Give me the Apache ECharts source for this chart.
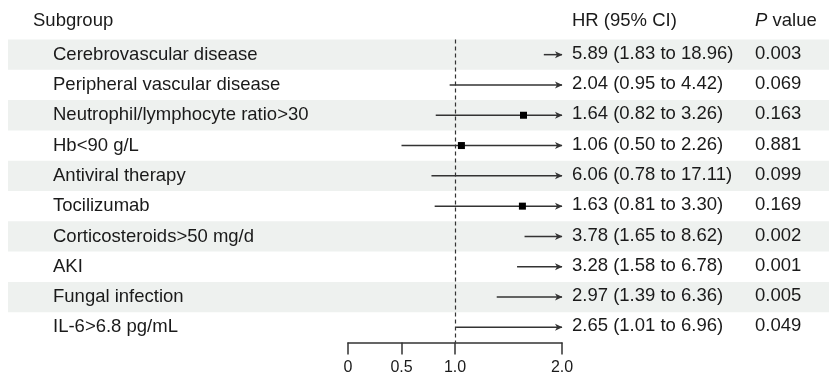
<!DOCTYPE html>
<html>
<head>
<meta charset="utf-8">
<script src="https://cdn.jsdelivr.net/npm/echarts@6/dist/echarts.min.js"></script>
<style>
html,body{margin:0;padding:0;background:#fff;}
#chart{width:829px;height:377px;}
</style>
</head>
<body>
<div id="chart"></div>
<script>
const categories = [
  'Cerebrovascular disease',
  'Peripheral vascular disease',
  'Neutrophil/lymphocyte ratio>30',
  'Hb<90 g/L',
  'Antiviral therapy',
  'Tocilizumab',
  'Corticosteroids>50 mg/d',
  'AKI',
  'Fungal infection',
  'IL-6>6.8 pg/mL'
];
const hr    = [5.89, 2.04, 1.64, 1.06, 6.06, 1.63, 3.78, 3.28, 2.97, 2.65];
const lower = [1.83, 0.95, 0.82, 0.50, 0.78, 0.81, 1.65, 1.58, 1.39, 1.01];
const upper = [18.96, 4.42, 3.26, 2.26, 17.11, 3.30, 8.62, 6.78, 6.36, 6.96];
const pValues = ['0.003', '0.069', '0.163', '0.881', '0.099', '0.169', '0.002', '0.001', '0.005', '0.049'];
const tickValues = [0, 0.5, 1.0, 2.0];
const tickLabels = ['0', '0.5', '1.0', '2.0'];
const axisMin = 0, axisMax = 2;

const FONT = "'Liberation Sans', Arial, Helvetica, sans-serif";
const FS = 18.5;
const TXT = '#1a1a1a';
const LINE = '#333333';

const hrText = categories.map((c, i) =>
  hr[i].toFixed(2) + ' (' + lower[i].toFixed(2) + ' to ' + upper[i].toFixed(2) + ')');

const ciData = categories.map((c, i) => [lower[i], i, upper[i], hr[i]]);

const chart = echarts.init(document.getElementById('chart'), null, {renderer: 'canvas'});

const gridTop = 39.5, gridBottom = 34.5;

const option = {
  animation: false,
  backgroundColor: '#ffffff',
  textStyle: {fontFamily: FONT},
  grid: [
    {left: 8, right: 0, top: gridTop, bottom: gridBottom, containLabel: false},
    {left: 348, right: 267, top: gridTop, bottom: gridBottom, containLabel: false}
  ],
  xAxis: [
    {gridIndex: 0, type: 'value', min: 0, max: 1, show: false},
    {
      gridIndex: 1, type: 'value', min: axisMin, max: axisMax,
      splitLine: {show: false},
      axisLine: {show: true, lineStyle: {color: LINE, width: 1.5}},
      axisTick: {show: true, inside: false, length: 12, customValues: tickValues,
        lineStyle: {color: LINE, width: 1.5}},
      axisLabel: {
        show: true, customValues: tickValues, margin: 17,
        fontSize: 16, color: TXT, fontFamily: FONT,
        formatter: v => {
          const k = tickValues.findIndex(t => Math.abs(t - v) < 1e-9);
          return k >= 0 ? tickLabels[k] : '';
        }
      }
    }
  ],
  yAxis: [
    {
      gridIndex: 0, type: 'category', data: categories, inverse: true,
      axisLine: {show: false}, axisTick: {show: false}, axisLabel: {show: false},
      splitLine: {show: false},
      splitArea: {show: true, areaStyle: {color: ['#eef1ef', 'rgba(255,255,255,0)']}}
    },
    {
      gridIndex: 1, type: 'category', data: categories, inverse: true, position: 'left',
      axisLine: {show: false}, axisTick: {show: false}, splitLine: {show: false},
      axisLabel: {
        show: true, align: 'left', margin: 295, fontSize: FS, color: TXT, fontFamily: FONT,
        padding: [0, 0, 2, 0]
      }
    },
    {
      gridIndex: 1, type: 'category', data: categories, inverse: true, position: 'right',
      axisLine: {show: false}, axisTick: {show: false}, splitLine: {show: false},
      axisLabel: {
        show: true, align: 'left', margin: 10, fontSize: FS, color: TXT, fontFamily: FONT,
        padding: [0, 0, 2, 0],
        formatter: (v, i) => '{a|' + hrText[i] + '}{b|' + pValues[i] + '}',
        rich: {
          a: {width: 183, fontSize: FS, color: TXT, fontFamily: FONT},
          b: {fontSize: FS, color: TXT, fontFamily: FONT}
        }
      }
    }
  ],
  graphic: [
    {type: 'text', left: 33, top: 11, style: {text: 'Subgroup', font: FS + 'px ' + FONT, fill: TXT}},
    {type: 'text', left: 572, top: 11, style: {text: 'HR (95% CI)', font: FS + 'px ' + FONT, fill: TXT}},
    {type: 'text', left: 755, top: 11, style: {
      text: '{i|P} value', font: FS + 'px ' + FONT, fill: TXT,
      rich: {i: {fontStyle: 'italic', fontSize: FS, fontFamily: FONT, fill: TXT}}
    }}
  ],
  series: [
    {
      type: 'custom',
      xAxisIndex: 1, yAxisIndex: 1,
      data: ciData,
      encode: {x: [0, 2, 3], y: 1},
      clip: false,
      renderItem: (params, api) => {
        const lo = api.value(0), idx = api.value(1), hi = api.value(2), est = api.value(3);
        const hiC = Math.min(hi, axisMax);
        const p0 = api.coord([Math.max(lo, axisMin), idx]);
        const p1 = api.coord([hiC, idx]);
        const children = [{
          type: 'line',
          shape: {x1: p0[0], y1: p0[1], x2: p1[0], y2: p1[1]},
          style: {stroke: LINE, lineWidth: 1.5}
        }];
        if (hi > axisMax) {
          children.push({
            type: 'polygon',
            shape: {points: [[p1[0] - 7, p1[1] - 3.5], [p1[0] + 0.5, p1[1]], [p1[0] - 7, p1[1] + 3.5], [p1[0] - 5, p1[1]]]},
            style: {fill: LINE, stroke: null}
          });
        }
        if (est <= axisMax && est >= axisMin) {
          const pe = api.coord([est, idx]);
          children.push({
            type: 'rect',
            shape: {x: pe[0] - 3.5, y: pe[1] - 3.5, width: 7, height: 7},
            style: {fill: '#000'}
          });
        }
        return {type: 'group', children: children};
      },
      markLine: {
        silent: true, symbol: 'none', label: {show: false},
        lineStyle: {color: LINE, width: 1.2, type: [4, 3]},
        data: [{xAxis: 1}]
      },
      z: 5
    }
  ]
};
chart.setOption(option);
</script>
</body>
</html>
